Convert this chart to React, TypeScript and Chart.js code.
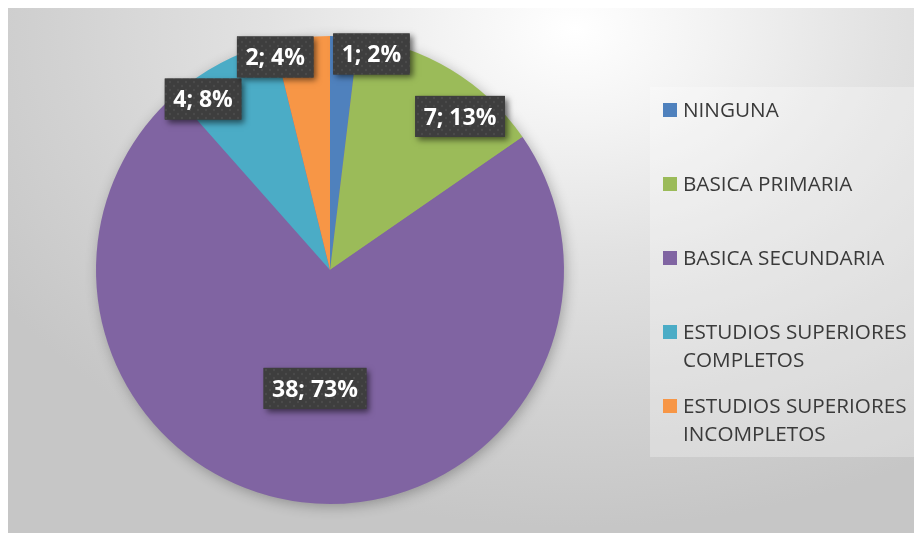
import React, { useEffect, useRef } from "react";
import { Chart, registerables } from "chart.js";

Chart.register(...registerables);

// ---- data ----
const categories = [
  "NINGUNA",
  "BASICA PRIMARIA",
  "BASICA SECUNDARIA",
  "ESTUDIOS SUPERIORES COMPLETOS",
  "ESTUDIOS SUPERIORES INCOMPLETOS",
];
const legendLines = [
  ["NINGUNA"],
  ["BASICA PRIMARIA"],
  ["BASICA SECUNDARIA"],
  ["ESTUDIOS SUPERIORES", "COMPLETOS"],
  ["ESTUDIOS SUPERIORES", "INCOMPLETOS"],
];
const counts = [1, 7, 38, 4, 2];

// ---- styles ----
const colors = ["#4F81BD", "#9BBB59", "#8064A2", "#4BACC6", "#F79646"];
// label placement relative to each slice: angle shift (deg) from mid-angle, fraction of radius
const labelAngleShift = [7.4, 9.1, 0.3, -8.9, -7.5];
const labelRadiusFrac = [0.94, 0.86, 0.51, 0.91, 0.94];

const LABEL_FONT = "bold 23px 'Open Sans'";
const LEGEND_FONT = "20.7px 'Open Sans'";

function makeDotPattern(ctx: CanvasRenderingContext2D) {
  const c = document.createElement("canvas");
  c.width = 8;
  c.height = 8;
  const g = c.getContext("2d")!;
  g.fillStyle = "#3e3e3e";
  g.fillRect(0, 0, 8, 8);
  g.fillStyle = "rgba(255,255,255,0.07)";
  g.beginPath();
  g.arc(2, 2, 1.2, 0, Math.PI * 2);
  g.fill();
  g.beginPath();
  g.arc(6, 6, 1.2, 0, Math.PI * 2);
  g.fill();
  return ctx.createPattern(c, "repeat") || "#3e3e3e";
}

const total = counts.reduce((a, b) => a + b, 0);
const labelTexts = counts.map((v) => `${v}; ${Math.round((v / total) * 100)}%`);

const pieShadowPlugin = {
  id: "pieShadow",
  beforeDatasetsDraw(chart: any) {
    const meta = chart.getDatasetMeta(0);
    const arc = meta.data[0];
    if (!arc) return;
    const { x, y, outerRadius } = arc.getProps(["x", "y", "outerRadius"], true);
    const ctx = chart.ctx;
    ctx.save();
    ctx.shadowColor = "rgba(0,0,0,0.30)";
    ctx.shadowBlur = 14;
    ctx.shadowOffsetX = 2;
    ctx.shadowOffsetY = 3;
    ctx.fillStyle = colors[2];
    ctx.beginPath();
    ctx.arc(x, y, outerRadius - 1, 0, Math.PI * 2);
    ctx.fill();
    ctx.restore();
  },
};

const labelsPlugin = {
  id: "sliceLabels",
  afterDatasetsDraw(chart: any) {
    const ctx: CanvasRenderingContext2D = chart.ctx;
    const meta = chart.getDatasetMeta(0);
    const pattern = makeDotPattern(ctx);
    ctx.save();
    ctx.font = LABEL_FONT;
    meta.data.forEach((arc: any, i: number) => {
      const { x, y, startAngle, endAngle, outerRadius } = arc.getProps(
        ["x", "y", "startAngle", "endAngle", "outerRadius"],
        true
      );
      const mid = (startAngle + endAngle) / 2 + (labelAngleShift[i] * Math.PI) / 180;
      const r = outerRadius * labelRadiusFrac[i];
      const cx = x + Math.cos(mid) * r;
      const cy = y + Math.sin(mid) * r;
      const text = labelTexts[i];
      const tw = ctx.measureText(text).width;
      const w = tw + 17;
      const h = 41;
      ctx.save();
      ctx.shadowColor = "rgba(0,0,0,0.55)";
      ctx.shadowBlur = 6;
      ctx.shadowOffsetX = 3;
      ctx.shadowOffsetY = 3;
      ctx.fillStyle = "#3e3e3e";
      ctx.fillRect(cx - w / 2, cy - h / 2, w, h);
      ctx.restore();
      ctx.fillStyle = pattern as any;
      ctx.fillRect(cx - w / 2, cy - h / 2, w, h);
      ctx.fillStyle = "#ffffff";
      ctx.textAlign = "center";
      ctx.textBaseline = "alphabetic";
      ctx.fillText(text, cx, cy + 8.2);
    });
    ctx.restore();
  },
};

const legendPlugin = {
  id: "sideLegend",
  afterDraw(chart: any) {
    const ctx: CanvasRenderingContext2D = chart.ctx;
    const area = chart.chartArea;
    const boxLeft = area.right + 86;
    const boxTop = 79;
    ctx.save();
    ctx.fillStyle = "rgba(255,255,255,0.28)";
    ctx.fillRect(boxLeft, boxTop, 268, 370);
    ctx.font = LEGEND_FONT;
    ctx.textAlign = "left";
    ctx.textBaseline = "alphabetic";
    const rowStart = boxTop + 23;
    const rowStep = 74;
    const lineH = 28;
    legendLines.forEach((lines, i) => {
      const cy = rowStart + i * rowStep;
      ctx.fillStyle = colors[i];
      ctx.fillRect(boxLeft + 13, cy - 7, 14, 14);
      ctx.fillStyle = "#3a3a3a";
      lines.forEach((ln, j) => {
        ctx.fillText(ln, boxLeft + 33, cy + 7.4 + j * lineH);
      });
    });
    ctx.restore();
  },
};

export default function App() {
  const ref = useRef<HTMLCanvasElement | null>(null);
  useEffect(() => {
    if (!ref.current) return;
    const chart = new Chart(ref.current, {
      type: "pie",
      data: {
        labels: categories,
        datasets: [
          {
            data: counts,
            backgroundColor: colors,
            borderWidth: 0,
          },
        ],
      },
      options: {
        responsive: false,
        animation: false,
        layout: { padding: { left: 88, right: 358, top: 28, bottom: 29 } },
        plugins: {
          legend: { display: false },
          tooltip: { enabled: false },
        },
      },
      plugins: [pieShadowPlugin, labelsPlugin, legendPlugin],
    });
    return () => chart.destroy();
  }, []);
  return (
    <div
      style={{
        width: 914,
        height: 525,
        background:
          "radial-gradient(ellipse 75% 95% at 62% 4%, #ffffff 0%, #f4f4f4 18%, #e2e2e2 45%, #d2d2d2 75%, #c6c6c6 100%)",
      }}
    >
      <canvas ref={ref} width={914} height={525} style={{ display: "block" }} />
    </div>
  );
}
